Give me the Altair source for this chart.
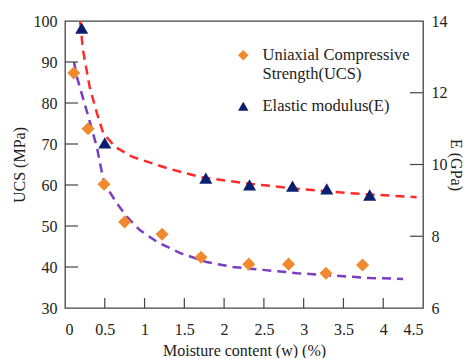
import altair as alt
import pandas as pd

# measured data
ucs_w = [0.11, 0.29, 0.49, 0.75, 1.22, 1.71, 2.31, 2.81, 3.28, 3.74]
ucs_v = [87.3, 73.7, 60.2, 51.0, 48.0, 42.4, 40.7, 40.7, 38.5, 40.5]
e_w = [0.21, 0.50, 1.77, 2.32, 2.86, 3.29, 3.83]
e_v = [13.8, 10.6, 9.62, 9.43, 9.40, 9.32, 9.15]

# fitted curves
ucs_fit_w = [0.113, 0.15, 0.28, 0.40, 0.49, 0.65, 0.78, 0.94, 1.16, 1.45, 1.78, 2.11, 2.49, 2.92, 3.46, 3.83, 4.25]
ucs_fit_v = [90.0, 86.3, 77.6, 69.3, 60.5, 55.6, 52.2, 49.0, 46.1, 43.4, 41.2, 40.0, 39.3, 38.5, 37.8, 37.3, 37.1]
e_fit_w = [0.19, 0.226, 0.31, 0.40, 0.48, 0.63, 0.85, 1.28, 1.70, 2.33, 2.95, 3.58, 4.42]
e_fit_v = [14.0, 13.19, 12.16, 11.44, 10.88, 10.49, 10.21, 9.90, 9.65, 9.46, 9.32, 9.20, 9.09]

x_ticks = [0, 0.5, 1, 1.5, 2, 2.5, 3, 3.5, 4, 4.5]
ucs_ticks = [30, 40, 50, 60, 70, 80, 90, 100]
e_ticks = [6, 8, 10, 12, 14]

FONT = "Liberation Serif"
AX = "#444444"
TXT = "#222222"
W, H = 358, 287

ucs_df = pd.DataFrame({"w": ucs_w, "v": ucs_v, "series": "UCS"})
e_df = pd.DataFrame({"w": e_w, "v": e_v, "series": "E"})
ucs_fit = pd.DataFrame({"w": ucs_fit_w, "v": ucs_fit_v})
e_fit = pd.DataFrame({"w": e_fit_w, "v": e_fit_v})

xs = alt.Scale(domain=[0, 4.5], nice=False, zero=False)
ys_l = alt.Scale(domain=[30, 100], nice=False, zero=False)
ys_r = alt.Scale(domain=[6, 14], nice=False, zero=False)

common = dict(
    ticks=False, domain=False, grid=False,
    labelFont=FONT, labelFontSize=16, labelColor=TXT,
    titleFont=FONT, titleFontSize=16, titleFontWeight="normal", titleColor=TXT,
)
x_axis = alt.Axis(title="Moisture content (w) (%)", values=x_ticks, format="~g",
                  labelPadding=13, titlePadding=5, **common)
l_axis = alt.Axis(title="UCS (MPa)", values=ucs_ticks, labelPadding=8, titlePadding=6, **common)
r_axis = alt.Axis(orient="right", title="E (GPa)", values=e_ticks, labelPadding=8, titlePadding=0, **common)

color = alt.Color(
    "series:N",
    scale=alt.Scale(domain=["UCS", "E"], range=["#F08A2E", "#0B1F6E"]),
    legend=alt.Legend(
        title=None, orient="none", legendX=170, legendY=26,
        labelFont=FONT, labelFontSize=16.5, labelColor=TXT,
        labelExpr="datum.label == 'UCS' ? ['Uniaxial Compressive', 'Strength(UCS)'] : 'Elastic modulus(E)'",
        symbolSize=110, symbolStrokeWidth=0, rowPadding=15, labelOffset=11,
        labelLimit=300, padding=0,
    ),
)
shape = alt.Shape(
    "series:N",
    scale=alt.Scale(domain=["UCS", "E"], range=["diamond", "triangle-up"]),
    legend=None,
)

X = alt.X("w:Q", scale=xs, axis=x_axis)
YL = alt.Y("v:Q", scale=ys_l, axis=l_axis)
YR = alt.Y("v:Q", scale=ys_r, axis=r_axis)

ucs_points = alt.Chart(ucs_df).mark_point(filled=True, size=170, opacity=1).encode(
    x=X, y=YL, color=color, shape=shape,
)
ucs_line = alt.Chart(ucs_fit).mark_line(color="#7A3DBF", strokeWidth=2.5, strokeDash=[9, 6]).encode(
    x=X, y=YL,
)
left_ticks = alt.Chart(pd.DataFrame({"v": ucs_ticks[1:-1]})).mark_rule(color=AX, strokeWidth=1.2).encode(
    y=YL, x=alt.value(0), x2=alt.value(13),
)
bottom_ticks = alt.Chart(pd.DataFrame({"w": x_ticks[1:-1]})).mark_rule(color=AX, strokeWidth=1.2).encode(
    x=X, y=alt.value(H), y2=alt.value(H - 10),
)
left = alt.layer(ucs_line, ucs_points, left_ticks, bottom_ticks)

e_points = alt.Chart(e_df).mark_point(filled=True, size=170, opacity=1).encode(
    x=X, y=YR, color=color, shape=shape,
)
e_line = alt.Chart(e_fit).mark_line(color="#FF2A2A", strokeWidth=2.5, strokeDash=[9, 6], clip=True).encode(
    x=X, y=YR,
)
right_ticks = alt.Chart(pd.DataFrame({"v": e_ticks[1:-1]})).mark_rule(color=AX, strokeWidth=1.2).encode(
    y=YR, x=alt.value(W), x2=alt.value(W - 13),
)
right = alt.layer(e_line, e_points, right_ticks)

chart = alt.layer(left, right).resolve_scale(y="independent").properties(
    width=W, height=H,
    autosize=alt.AutoSizeParams(type="none"),
    padding={"left": 57, "top": 13, "right": 40, "bottom": 50},
    background="white",
).configure_view(stroke=AX, strokeWidth=1.3)

chart.save("out.html", embed_options={"renderer": "svg", "actions": False})
